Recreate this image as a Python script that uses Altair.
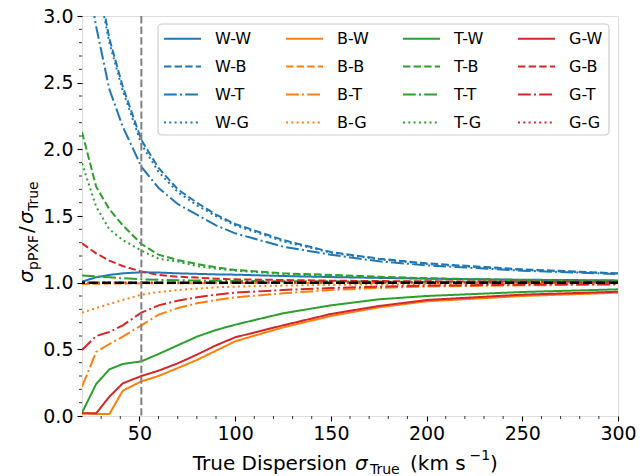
import altair as alt
import pandas as pd

# x positions (True dispersion, km/s)
X = [20, 27.4, 34.3, 41.3, 51, 60, 70, 80, 90, 100, 125, 150, 175, 200, 250, 300]

# ratio sigma_pPXF / sigma_True for each template-spectrum combination
W_W = [1.008, 1.04, 1.058, 1.07, 1.078, 1.076, 1.07, 1.066, 1.062, 1.06, 1.05, 1.042, 1.036, 1.03, 1.022, 1.017]
W_B = [4.4, 3.35, 2.83, 2.47, 2.07, 1.86, 1.70, 1.60, 1.51, 1.44, 1.32, 1.23, 1.18, 1.145, 1.10, 1.07]
W_T = [3.55, 2.92, 2.45, 2.17, 1.87, 1.71, 1.59, 1.51, 1.43, 1.37, 1.27, 1.21, 1.16, 1.13, 1.09, 1.065]
W_G = [4.3, 3.3, 2.80, 2.44, 2.04, 1.83, 1.68, 1.58, 1.50, 1.43, 1.31, 1.225, 1.175, 1.14, 1.095, 1.068]

B_W = [0.02, 0.015, 0.015, 0.19, 0.26, 0.30, 0.36, 0.42, 0.49, 0.56, 0.665, 0.75, 0.815, 0.86, 0.90, 0.925]
B_B = [0.99, 0.992, 0.993, 0.994, 0.995, 0.995, 0.996, 0.996, 0.996, 0.997, 0.997, 0.997, 0.998, 0.998, 0.998, 0.998]
B_T = [0.22, 0.48, 0.54, 0.595, 0.68, 0.76, 0.81, 0.845, 0.87, 0.89, 0.92, 0.945, 0.96, 0.972, 0.98, 0.985]
B_G = [0.775, 0.81, 0.84, 0.87, 0.91, 0.93, 0.945, 0.955, 0.965, 0.97, 0.978, 0.983, 0.987, 0.99, 0.993, 0.995]

T_W = [0.025, 0.24, 0.35, 0.39, 0.41, 0.465, 0.53, 0.595, 0.645, 0.685, 0.77, 0.83, 0.875, 0.90, 0.93, 0.95]
T_B = [2.13, 1.72, 1.55, 1.43, 1.29, 1.21, 1.17, 1.14, 1.115, 1.095, 1.07, 1.058, 1.045, 1.033, 1.02, 1.013]
T_T = [1.053, 1.047, 1.04, 1.033, 1.025, 1.021, 1.018, 1.016, 1.014, 1.013, 1.011, 1.01, 1.008, 1.007, 1.006, 1.005]
T_G = [1.895, 1.57, 1.40, 1.32, 1.24, 1.18, 1.158, 1.125, 1.105, 1.09, 1.065, 1.05, 1.04, 1.03, 1.018, 1.012]

G_W = [0.02, 0.02, 0.145, 0.245, 0.30, 0.34, 0.395, 0.46, 0.53, 0.59, 0.68, 0.765, 0.825, 0.87, 0.91, 0.932]
G_B = [1.295, 1.22, 1.165, 1.125, 1.083, 1.058, 1.045, 1.038, 1.03, 1.025, 1.02, 1.015, 1.012, 1.01, 1.008, 1.006]
G_T = [0.495, 0.60, 0.63, 0.68, 0.775, 0.83, 0.865, 0.89, 0.91, 0.925, 0.945, 0.96, 0.97, 0.978, 0.985, 0.99]
G_G = [1.0, 1.001, 1.002, 1.002, 1.002, 1.002, 1.002, 1.002, 1.002, 1.001, 1.001, 1.001, 1.001, 1.001, 1.001, 1.001]

SERIES = {
    "W-W": W_W, "W-B": W_B, "W-T": W_T, "W-G": W_G,
    "B-W": B_W, "B-B": B_B, "B-T": B_T, "B-G": B_G,
    "T-W": T_W, "T-B": T_B, "T-T": T_T, "T-G": T_G,
    "G-W": G_W, "G-B": G_B, "G-T": G_T, "G-G": G_G,
}

REF_SIGMA = [51]      # vertical dashed marker
UNITY = [1.0]         # horizontal unity line

X_TICKS = [50, 100, 150, 200, 250, 300]
Y_TICKS = [0.0, 0.5, 1.0, 1.5, 2.0, 2.5, 3.0]
X_MINOR = [30, 40, 60, 70, 80, 90, 110, 120, 130, 140, 160, 170, 180, 190,
           210, 220, 230, 240, 260, 270, 280, 290]
Y_MINOR = [0.1, 0.2, 0.3, 0.4, 0.6, 0.7, 0.8, 0.9, 1.1, 1.2, 1.3, 1.4,
           1.6, 1.7, 1.8, 1.9, 2.1, 2.2, 2.3, 2.4, 2.6, 2.7, 2.8, 2.9]

rows = []
for name, vals in SERIES.items():
    for xv, yv in zip(X, vals):
        rows.append({"x": xv, "y": yv, "series": name})
df = pd.DataFrame(rows)

groups = ["W", "B", "T", "G"]
colors = {"W": "#1f77b4", "B": "#ff7f0e", "T": "#2ca02c", "G": "#d62728"}
dashes = {"W": [1, 0], "B": [7.4, 3.2], "T": [12.8, 3.2, 2, 3.2], "G": [2, 3.3]}
order = [f"{g}-{s}" for g in groups for s in groups]

FONT = "DejaVu Sans"
W, H = 536, 400
xscale = alt.Scale(domain=[20, 300], nice=False, zero=False)
yscale = alt.Scale(domain=[0, 3], nice=False, zero=False)

XAX = alt.Axis(values=X_TICKS, title=None, grid=False, domain=False,
               tickSize=5, tickColor="black", tickWidth=1.1,
               labelFontSize=19, labelColor="black", labelFont=FONT,
               labelPadding=3, format="d", labelFlush=False, labelOverlap=False)
YAX = alt.Axis(values=Y_TICKS, title=None, grid=False, domain=False,
               tickSize=5, tickColor="black", tickWidth=1.1,
               labelFontSize=19, labelColor="black", labelFont=FONT,
               labelPadding=4, format=".1f", labelFlush=False, labelOverlap=False)

# legend background box (decoration, pixel placed)
legend_bg = alt.Chart(pd.DataFrame({"a": [0]})).mark_rect(
    fill="white", fillOpacity=0.8, stroke="#cccccc", strokeWidth=1.2, cornerRadius=4).encode(
    x=alt.value(76), x2=alt.value(527), y=alt.value(8), y2=alt.value(119))

lines = alt.Chart(df).mark_line(strokeWidth=2, clip=True).encode(
    x=alt.X("x:Q", scale=xscale, axis=XAX),
    y=alt.Y("y:Q", scale=yscale, axis=YAX),
    color=alt.Color("series:N",
                    scale=alt.Scale(domain=order, range=[colors[s[0]] for s in order]),
                    legend=alt.Legend(title=None, orient="none", legendX=81, legendY=3,
                                      columns=4, symbolType="stroke", symbolSize=1369,
                                      symbolStrokeWidth=2, labelFontSize=16, labelFont=FONT,
                                      labelColor="black", labelOffset=13,
                                      columnPadding=30, rowPadding=-11, padding=0)),
    strokeDash=alt.StrokeDash("series:N",
                              scale=alt.Scale(domain=order, range=[dashes[s[2]] for s in order]),
                              legend=None),
    detail="series:N",
)

hline = alt.Chart(pd.DataFrame({"v": UNITY})).mark_rule(
    color="black", strokeWidth=2.5, strokeDash=[9, 4]).encode(
    y=alt.Y("v:Q", scale=yscale, axis=YAX))

vline = alt.Chart(pd.DataFrame({"v": REF_SIGMA})).mark_rule(
    color="#808080", strokeWidth=2, strokeDash=[7.4, 3.2]).encode(
    x=alt.X("v:Q", scale=xscale, axis=XAX))

xminor = alt.Chart(pd.DataFrame({"v": X_MINOR})).mark_rule(
    color="black", strokeWidth=0.8).encode(
    x=alt.X("v:Q", scale=xscale, axis=XAX), y=alt.value(H), y2=alt.value(H + 3))

yminor = alt.Chart(pd.DataFrame({"v": Y_MINOR})).mark_rule(
    color="black", strokeWidth=0.8).encode(
    y=alt.Y("v:Q", scale=yscale, axis=YAX), x=alt.value(0), x2=alt.value(-3))

one = pd.DataFrame({"a": [0]})


def txt(s, x, y, size, angle=0, italic=False):
    kw = dict(align="left", baseline="alphabetic", fontSize=size, font=FONT,
              color="black", angle=angle)
    if italic:
        kw["fontStyle"] = "italic"
    return alt.Chart(one).mark_text(**kw).encode(
        x=alt.value(x), y=alt.value(y), text=alt.value(s))


xb = 454
titles = [
    txt("True Dispersion ", 110.7, xb, 20),
    txt("σ", 273, xb, 20, italic=True),
    txt("True", 288, xb + 4, 14),
    txt("(km s", 328, xb, 20),
    txt("−1", 387.5, xb - 10, 14),
    txt(")", 408, xb, 20),
    txt("σ", -49, 267, 20, angle=270, italic=True),
    txt("pPXF", -44.5, 254, 14, angle=270),
    txt("/", -49, 217, 20, angle=270),
    txt("σ", -49, 208, 20, angle=270, italic=True),
    txt("True", -44.5, 195, 14, angle=270),
]

chart = alt.layer(legend_bg, lines, hline, vline, xminor, yminor, *titles).properties(
    width=W, height=H,
    padding={"left": 82, "top": 16, "right": 22, "bottom": 60},
    autosize=alt.AutoSizeParams(type="none"),
).configure_view(stroke="black", strokeWidth=1.2).configure(font=FONT)

chart.save("out.html", embed_options={"renderer": "svg", "actions": False})
